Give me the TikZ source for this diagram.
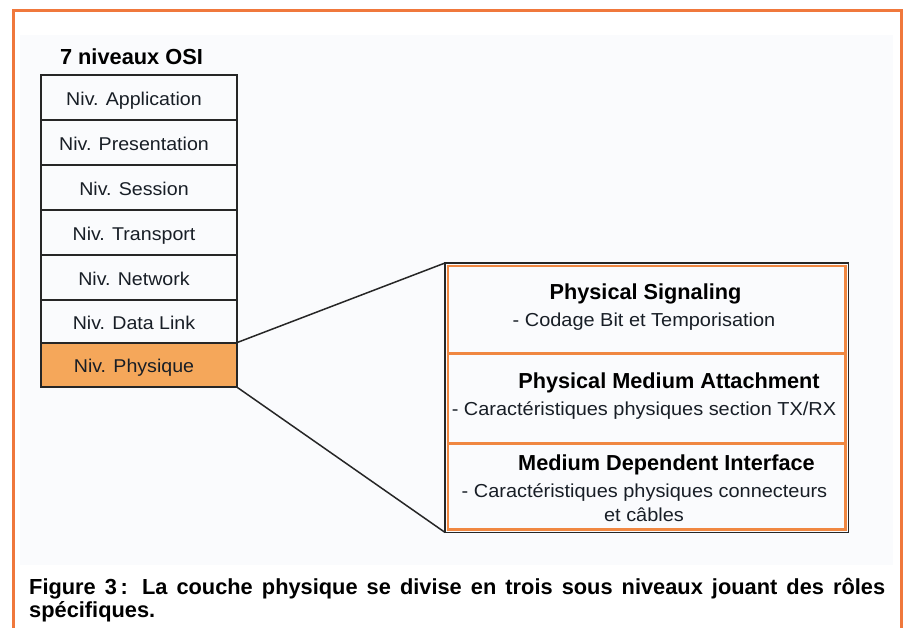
\documentclass[tikz,border=0pt]{standalone}
\usepackage{fontspec}
\setmainfont{Liberation Sans}
\newfontfamily\boxfont[FakeStretch=1.06]{Liberation Sans}
\newfontfamily\capfont[FakeStretch=1.0]{Liberation Sans}
\definecolor{frameor}{RGB}{240,120,60}
\definecolor{phyfill}{RGB}{245,167,90}
\definecolor{subor}{RGB}{240,135,65}
\definecolor{panel}{RGB}{250,251,253}
\definecolor{txt}{RGB}{24,30,38}
\begin{document}
\begin{tikzpicture}[x=1pt,y=-1pt,
  osibox/.style={draw=black!85,line width=1.3pt,minimum width=196pt,minimum height=45pt,inner sep=0pt,text=txt,font=\boxfont\fontsize{18.5}{21}\selectfont,text height=18pt,text depth=2.4pt},
  subbox/.style={minimum width=397pt,inner sep=0pt,anchor=north west},
  subtitle/.style={text=black,font=\bfseries\fontsize{21.7}{24}\selectfont,inner sep=0pt,anchor=base},
  subtext/.style={text=txt,font=\boxfont\fontsize{18.8}{22}\selectfont,inner sep=0pt,anchor=base},
  captxt/.style={anchor=base west,inner sep=0pt,text=black,font=\capfont\bfseries\fontsize{21.8}{24}\selectfont},
  link/.style={draw=black!85,line width=1.5pt}]
\useasboundingbox (0,0) rectangle (905,628);
\fill[white] (0,0) rectangle (905,628);
\fill[panel] (20,35) rectangle (893,565);
\draw[frameor,line width=3pt] (13,628) -- (13,11) -- (901,11) -- (901,628);
% left stack
\node[text=black,font=\bfseries\fontsize{21.8}{24}\selectfont,inner sep=0pt,anchor=base] (title) at (131.5,65) {7 niveaux OSI};
\node[osibox] (app) at (139,97.5) {Niv. Application\hspace*{10pt}};
\node[osibox] (pre) at (139,142.5) {Niv. Presentation\hspace*{10pt}};
\node[osibox] (ses) at (139,187.5) {Niv. Session\hspace*{10pt}};
\node[osibox] (tra) at (139,232.5) {Niv. Transport\hspace*{10pt}};
\node[osibox] (net) at (139,277.5) {Niv. Network\hspace*{10pt}};
\node[osibox,minimum height=43pt] (dl) at (139,321.5) {Niv. Data Link\hspace*{10pt}};
\node[osibox,fill=phyfill,minimum height=44pt] (phy) at (139,365) {Niv. Physique\hspace*{10pt}};
% right box
\node[subbox,minimum height=87pt] (ps) at (448,266) {};
\node[subbox,minimum height=90pt] (pma) at (448,353) {};
\node[subbox,minimum height=86pt] (mdi) at (448,443) {};
\draw[black!85,line width=1.5pt] ([xshift=-3pt,yshift=3pt]ps.north west) rectangle ([xshift=3pt,yshift=-3pt]mdi.south east);
\draw[subor,line width=2.5pt] (ps.north west) rectangle (mdi.south east);
\draw[subor,line width=3pt] (ps.south west) -- (ps.south east);
\draw[subor,line width=3pt] (pma.south west) -- (pma.south east);
\node[subtitle] (pst) at (645.5,299.5) {Physical Signaling};
\node[subtext] (psd) at (644,326.7) {- Codage Bit et Temporisation};
\node[subtitle] (pmat) at (669,388) {Physical Medium Attachment};
\node[subtext] (pmad) at (644,415) {- Caractéristiques physiques section TX/RX};
\node[subtitle] (mdit) at (666.5,470) {Medium Dependent Interface};
\node[subtext] (mdid) at (644.5,497) {- Caractéristiques physiques connecteurs};
\node[subtext] (mdie) at (644,521) {et câbles};
% connectors
\draw[link] (phy.north east) -- ([xshift=-3pt,yshift=3pt]ps.north west);
\draw[link] (phy.south east) -- ([xshift=-3pt,yshift=-3pt]mdi.south west);
% caption
\node[captxt] (cap1) at (29,594) {\makebox[856pt][s]{Figure 3\,: La couche physique se divise en trois sous niveaux jouant des rôles}};
\node[captxt] (cap2) at (29,617.7) {spécifiques.};
\end{tikzpicture}
\end{document}
